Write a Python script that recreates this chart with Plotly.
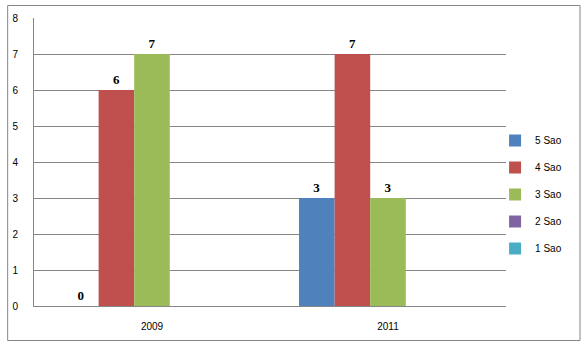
import plotly.graph_objects as go

categories = ["2009", "2011"]
series_names = ["5 Sao", "4 Sao", "3 Sao", "2 Sao", "1 Sao"]
values_5sao = [0, 3]
values_4sao = [6, 7]
values_3sao = [7, 3]
values_2sao = [None, None]
values_1sao = [None, None]
colors = ["#4F81BD", "#C0504D", "#9BBB59", "#8064A2", "#4BACC6"]
y_ticks = [0, 1, 2, 3, 4, 5, 6, 7, 8]

all_values = [values_5sao, values_4sao, values_3sao, values_2sao, values_1sao]

fig = go.Figure()
for i, (name, vals, col) in enumerate(zip(series_names, all_values, colors)):
    fig.add_trace(go.Bar(
        x=categories, y=vals, name=name,
        marker=dict(color=col, line=dict(width=0)),
        text=["" if v is None else str(v) for v in vals],
        texttemplate="<b>%{text}</b>",
        textposition="outside",
        outsidetextfont=dict(family="Liberation Serif", size=13, color="#000000"),
        cliponaxis=False,
        legendgroup=name,
    ))

L, R, T, B = 31, 80, 18, 40
W, H = 586, 346
pw, ph = W - L - R, H - T - B

def px_x(x):
    return (x - L) / pw

def px_y(y):
    return (H - B - y) / ph

fig.update_layout(
    width=W, height=H,
    margin=dict(l=L, r=R, t=T, b=B),
    paper_bgcolor="white", plot_bgcolor="white",
    barmode="group", bargap=0.246, bargroupgap=0,
    font=dict(family="Liberation Sans", size=10, color="#000000"),
    showlegend=True,
    legend=dict(x=px_x(495), y=px_y(126), xanchor="left", yanchor="top",
                font=dict(family="Liberation Sans", size=10),
                tracegroupgap=8, itemwidth=30,
                bgcolor="rgba(0,0,0,0)"),
    xaxis=dict(showline=True, linecolor="#868686", linewidth=1,
               ticks="", showgrid=False, ticklabelstandoff=11,
               tickfont=dict(size=10)),
    yaxis=dict(range=[0, 8], tickvals=y_ticks, showline=True, linecolor="#868686",
               linewidth=1, showgrid=True, gridcolor="#868686", gridwidth=1,
               ticks="", ticklabelstandoff=13, zeroline=False,
               tickfont=dict(size=10)),
    shapes=[dict(type="rect", xref="paper", yref="paper",
                 x0=px_x(4.5), x1=px_x(580.5), y0=px_y(340.5), y1=px_y(5.5),
                 line=dict(color="#868686", width=1), fillcolor="rgba(0,0,0,0)",
                 layer="below")],
)

fig.write_html("out.html")
